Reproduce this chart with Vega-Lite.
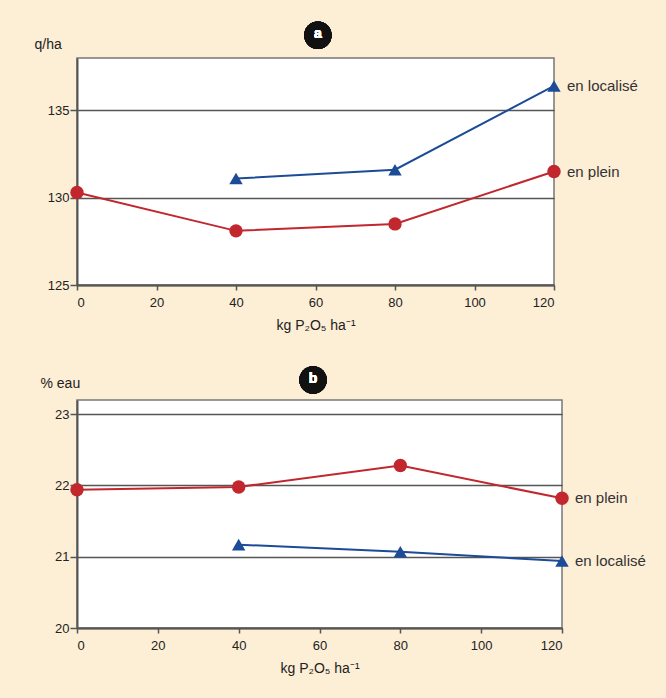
{
  "$schema": "https://vega.github.io/schema/vega-lite/v6.json",
  "padding": {"left": 33, "top": 20, "right": 60, "bottom": 60},
  "background": "#fdeed6",
  "bounds": "flush",
  "spacing": 115,
  "config": {
    "font": "Liberation Sans, sans-serif",
    "view": {"fill": "white", "stroke": "#777", "strokeWidth": 1.5},
    "axis": {
      "labelFont": "Liberation Sans, sans-serif",
      "titleFont": "Liberation Sans, sans-serif",
      "labelColor": "#222",
      "titleColor": "#222",
      "labelFontSize": 13,
      "titleFontSize": 14,
      "titleFontWeight": "normal",
      "domainColor": "#555",
      "domainWidth": 2,
      "tickColor": "#555",
      "tickWidth": 1.5,
      "gridColor": "#555",
      "gridWidth": 1.5
    }
  },
  "datasets": {
    "a": [
      {"x": 0, "y": 130.3, "serie": "en plein"},
      {"x": 40, "y": 128.1, "serie": "en plein"},
      {"x": 80, "y": 128.5, "serie": "en plein"},
      {"x": 120, "y": 131.5, "serie": "en plein"},
      {"x": 40, "y": 131.1, "serie": "en localisé"},
      {"x": 80, "y": 131.6, "serie": "en localisé"},
      {"x": 120, "y": 136.4, "serie": "en localisé"}
    ],
    "b": [
      {"x": 0, "y": 21.94, "serie": "en plein"},
      {"x": 40, "y": 21.98, "serie": "en plein"},
      {"x": 80, "y": 22.28, "serie": "en plein"},
      {"x": 120, "y": 21.82, "serie": "en plein"},
      {"x": 40, "y": 21.17, "serie": "en localisé"},
      {"x": 80, "y": 21.07, "serie": "en localisé"},
      {"x": 120, "y": 20.94, "serie": "en localisé"}
    ]
  },
  "vconcat": [
    {
      "width": 477,
      "height": 227,
      "data": {"name": "a"},
      "encoding": {
        "x": {"field": "x", "type": "quantitative", "scale": {"domain": [0, 120], "nice": false},
          "axis": {"values": [0, 20, 40, 60, 80, 100, 120], "grid": false, "tickSize": 5, "labelPadding": 6, "title": "kg P₂O₅ ha⁻¹", "titlePadding": 9}},
        "y": {"field": "y", "type": "quantitative", "scale": {"domain": [125, 138], "nice": false, "zero": false},
          "axis": {"values": [125, 130, 135], "grid": true, "tickSize": 7, "labelPadding": 1, "title": "q/ha", "titleAngle": 0, "titleAlign": "left", "titleBaseline": "alphabetic", "titleX": -43, "titleY": -10}},
        "color": {"field": "serie", "type": "nominal", "scale": {"domain": ["en plein", "en localisé"], "range": ["#c1272d", "#1c4b97"]}, "legend": null},
        "shape": {"field": "serie", "type": "nominal", "scale": {"domain": ["en plein", "en localisé"], "range": ["circle", "triangle-up"]}, "legend": null}
      },
      "layer": [
        {"mark": {"type": "line", "strokeWidth": 2}},
        {"mark": {"type": "point", "filled": true, "opacity": 1, "size": 180}},
        {"transform": [{"filter": "datum.x == 120"}],
          "mark": {"type": "text", "align": "left", "baseline": "middle", "dx": 13, "fontSize": 15, "color": "#333"},
          "encoding": {"text": {"field": "serie"}, "color": {"value": "#333"}}},
        {"mark": {"type": "point", "filled": true, "opacity": 1, "size": 750, "color": "#111"},
          "encoding": {"x": {"datum": 60.6}, "y": {"datum": 139.3}, "color": {"value": "#111"}, "shape": {"value": "circle"}}},
        {"mark": {"type": "text", "fontSize": 14, "fontWeight": "bold", "color": "white", "baseline": "middle", "dy": -1},
          "encoding": {"x": {"datum": 60.6}, "y": {"datum": 139.3}, "text": {"value": "a"}, "color": {"value": "white"}}}
      ]
    },
    {
      "width": 485,
      "height": 228,
      "data": {"name": "b"},
      "encoding": {
        "x": {"field": "x", "type": "quantitative", "scale": {"domain": [0, 120], "nice": false},
          "axis": {"values": [0, 20, 40, 60, 80, 100, 120], "grid": false, "tickSize": 5, "labelPadding": 6, "title": "kg P₂O₅ ha⁻¹", "titlePadding": 9}},
        "y": {"field": "y", "type": "quantitative", "scale": {"domain": [20, 23.2], "nice": false, "zero": false},
          "axis": {"values": [20, 21, 22, 23], "grid": true, "tickSize": 7, "labelPadding": 1, "title": "% eau", "titleAngle": 0, "titleAlign": "left", "titleBaseline": "alphabetic", "titleX": -37, "titleY": -13}},
        "color": {"field": "serie", "type": "nominal", "scale": {"domain": ["en plein", "en localisé"], "range": ["#c1272d", "#1c4b97"]}, "legend": null},
        "shape": {"field": "serie", "type": "nominal", "scale": {"domain": ["en plein", "en localisé"], "range": ["circle", "triangle-up"]}, "legend": null}
      },
      "layer": [
        {"mark": {"type": "line", "strokeWidth": 2}},
        {"mark": {"type": "point", "filled": true, "opacity": 1, "size": 180}},
        {"transform": [{"filter": "datum.x == 120"}],
          "mark": {"type": "text", "align": "left", "baseline": "middle", "dx": 13, "fontSize": 15, "color": "#333"},
          "encoding": {"text": {"field": "serie"}, "color": {"value": "#333"}}},
        {"mark": {"type": "point", "filled": true, "opacity": 1, "size": 750, "color": "#111"},
          "encoding": {"x": {"datum": 58.4}, "y": {"datum": 23.48}, "color": {"value": "#111"}, "shape": {"value": "circle"}}},
        {"mark": {"type": "text", "fontSize": 14, "fontWeight": "bold", "color": "white", "baseline": "middle", "dy": -1},
          "encoding": {"x": {"datum": 58.4}, "y": {"datum": 23.48}, "text": {"value": "b"}, "color": {"value": "white"}}}
      ]
    }
  ]
}
